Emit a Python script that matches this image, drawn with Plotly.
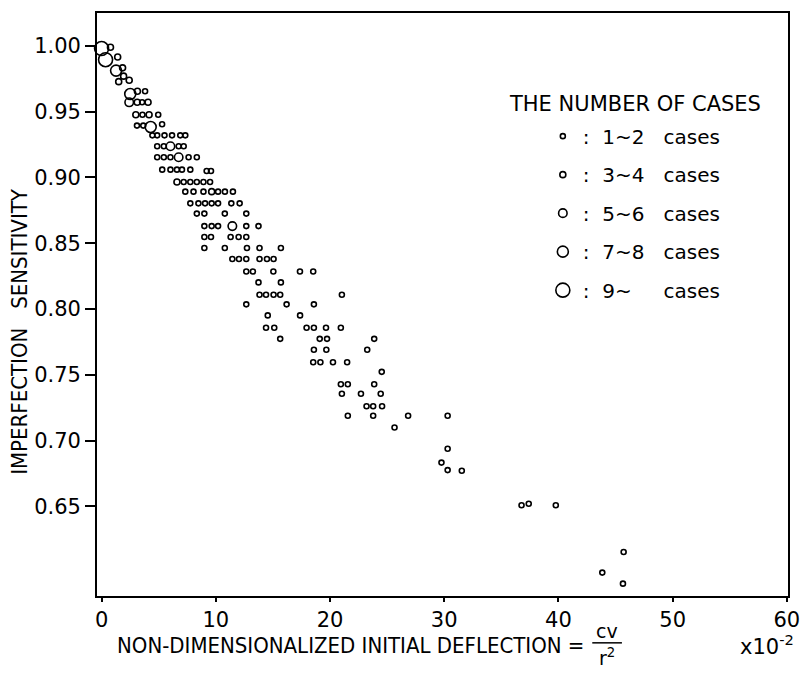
import plotly.graph_objects as go

# ---- data ----
x_vals = [
    0.0, 0.78, 0.35, 1.41, 1.27, 1.84, 1.93, 1.50, 2.42, 2.51, 3.14, 3.81, 2.42, 3.12, 3.55, 4.07,
    3.0, 3.58, 4.16, 4.96,
    3.1, 3.65, 4.3, 5.3,
    4.45, 4.87, 5.51, 6.17, 6.89, 7.33,
    4.87, 5.45, 6.03, 6.75, 7.19,
    4.87, 5.45, 6.03, 6.75, 7.62, 8.34,
    5.31, 6.03, 6.6, 7.04, 7.77, 9.2, 9.58,
    6.6, 7.19, 7.77, 8.34, 8.92, 9.5,
    7.33, 8.05, 8.92, 9.64, 10.2, 10.8, 11.5,
    7.77, 8.48, 9.06, 9.64, 10.2, 11.36, 12.09,
    8.34, 9.0, 10.79, 12.67,
    9.0, 9.64, 10.2, 11.45, 12.67, 13.74,
    9.0, 9.58, 11.3, 12.0, 12.67,
    9.0, 10.79, 12.73, 13.83, 15.7,
    11.45, 12.03, 12.67, 13.83, 14.48, 15.06,
    12.67, 13.25, 15.04, 17.37, 18.53,
    13.74, 15.7,
    13.83, 14.4, 15.06, 15.64, 21.04,
    12.67, 16.2, 18.59,
    14.55, 17.38,
    14.4, 15.12, 17.95, 18.59, 19.65, 20.95,
    15.64, 19.1, 19.74, 23.87,
    18.59, 19.68, 23.26,
    18.53, 19.16, 20.26, 21.5,
    24.53,
    20.95, 21.56, 23.87,
    21.04, 22.71, 24.44,
    23.2, 23.78, 24.56,
    21.56, 23.78, 26.84, 30.3,
    25.65,
    30.3, 29.76, 30.3, 31.54,
    36.77, 37.4, 39.77,
    43.84, 45.71, 45.65,
]
y_vals = [
    0.998, 0.999, 0.9895, 0.9916, 0.9812, 0.9833, 0.977, 0.9728, 0.9739, 0.9634, 0.9655, 0.9655,
    0.9571, 0.9571, 0.9571, 0.9571,
    0.9477, 0.9477, 0.9477, 0.9477,
    0.9394, 0.9394, 0.9383, 0.9404,
    0.932, 0.932, 0.932, 0.932, 0.932, 0.932,
    0.9237, 0.9237, 0.9237, 0.9237, 0.9237,
    0.9153, 0.9153, 0.9153, 0.9153, 0.9153, 0.9153,
    0.9059, 0.9059, 0.9059, 0.9059, 0.9059, 0.9049, 0.9049,
    0.8965, 0.8965, 0.8965, 0.8965, 0.8965, 0.8965,
    0.8892, 0.8892, 0.8892, 0.8892, 0.8892, 0.8892, 0.8892,
    0.8803, 0.8803, 0.8803, 0.8803, 0.8803, 0.8803, 0.8803,
    0.8725, 0.8725, 0.8725, 0.8725,
    0.863, 0.863, 0.863, 0.863, 0.863, 0.863,
    0.8547, 0.8547, 0.8547, 0.8547, 0.8547,
    0.8463, 0.8463, 0.8463, 0.8463, 0.8463,
    0.838, 0.838, 0.838, 0.838, 0.838, 0.838,
    0.8285, 0.8285, 0.8285, 0.8285, 0.8285,
    0.8202, 0.8202,
    0.8108, 0.8108, 0.8108, 0.8108, 0.8108,
    0.8035, 0.8035, 0.8035,
    0.7951, 0.7951,
    0.7857, 0.7857, 0.7857, 0.7857, 0.7857, 0.7857,
    0.7773, 0.7773, 0.7773, 0.7773,
    0.769, 0.769, 0.769,
    0.7595, 0.7595, 0.7595, 0.7595,
    0.7522,
    0.7428, 0.7428, 0.7428,
    0.7355, 0.7355, 0.7355,
    0.7261, 0.7261, 0.7261,
    0.7188, 0.7188, 0.7188, 0.7188,
    0.7099,
    0.6937, 0.6832, 0.6775, 0.677,
    0.6508, 0.6519, 0.6508,
    0.5996, 0.6153, 0.5912,
]
case_class = [
    5, 2, 5, 2, 4, 2, 2, 2, 2, 4, 2, 1, 3, 2, 1, 2,
    2, 1, 2, 1,
    1, 1, 4, 1,
    1, 1, 1, 1, 1, 1,
    1, 1, 3, 1, 1,
    1, 1, 1, 3, 1, 1,
    1, 1, 1, 1, 1, 1, 1,
    2, 1, 1, 1, 1, 1,
    1, 1, 1, 2, 1, 1, 1,
    1, 1, 1, 1, 1, 1, 1,
    1, 1, 1, 1,
    1, 1, 1, 3, 1, 1,
    1, 1, 1, 1, 1,
    1, 1, 1, 1, 1,
    1, 1, 1, 1, 1, 1,
    1, 1, 1, 1, 1,
    1, 1,
    1, 1, 1, 1, 1,
    1, 1, 1,
    1, 1,
    1, 1, 1, 1, 1, 1,
    1, 1, 1, 1,
    1, 1, 1,
    1, 1, 1, 1,
    1,
    1, 1, 1,
    1, 1, 1,
    1, 1, 1,
    1, 1, 1, 1,
    1,
    1, 1, 1, 1,
    1, 1, 1,
    1, 1, 1,
]
class_ids = [1, 2, 3, 4, 5]
class_labels = ["1~2", "3~4", "5~6", "7~8", "9~"]
y_tick_vals = [1.00, 0.95, 0.90, 0.85, 0.80, 0.75, 0.70, 0.65]
y_tick_text = ["1.00", "0.95", "0.90", "0.85", "0.80", "0.75", "0.70", "0.65"]
x_tick_vals = [0, 10, 20, 30, 40, 50, 60]

# ---- styling ----
marker_sizes = {1: 5, 2: 6, 3: 8.5, 4: 11, 5: 14}
NB = "\u00a0"
FONT = "DejaVu Sans"
NARROW = "Liberation Sans Narrow, DejaVu Sans Condensed, Liberation Sans"

L, R, T, B = 97, 796, 11, 596
W, H = R - L, B - T
def px(xp):
    return (xp - L) / W
def py(yp):
    return (B - yp) / H

fig = go.Figure()
for cid, lab in zip(class_ids, class_labels):
    xs = [x for x, c in zip(x_vals, case_class) if c == cid]
    ys = [y for y, c in zip(y_vals, case_class) if c == cid]
    gap = NB * (5 if cid == 5 else 3)
    fig.add_trace(go.Scatter(
        x=xs, y=ys, mode="markers",
        name=":" + NB * 2 + lab + gap + "cases",
        legendgroup=str(cid),
        marker=dict(symbol="circle-open", color="black", size=marker_sizes[cid],
                    line=dict(width=1.6, color="black")),
        cliponaxis=False,
    ))

fig.update_layout(
    width=811, height=675,
    margin=dict(l=L, r=811 - R, t=T, b=675 - B),
    paper_bgcolor="white", plot_bgcolor="white",
    font=dict(family=FONT, size=18, color="black"),
    showlegend=True,
    legend=dict(x=px(548), y=py(115), xanchor="left", yanchor="top",
                font=dict(family=FONT, size=20, color="black"),
                tracegroupgap=9.5, itemsizing="trace", bgcolor="rgba(0,0,0,0)"),
    xaxis=dict(range=[-0.4, 60.1], tickvals=x_tick_vals, ticks="outside", ticklen=4,
               tickwidth=1.5, tickcolor="black", showline=True, linewidth=1.8,
               linecolor="black", mirror=True, showgrid=False, zeroline=False,
               tickfont=dict(family=FONT, size=21, color="black")),
    yaxis=dict(range=[0.5818, 1.025], tickvals=y_tick_vals, ticktext=y_tick_text,
               ticks="outside", ticklen=10, tickwidth=1.5, tickcolor="black",
               showline=True, linewidth=1.8, linecolor="black", mirror=True,
               showgrid=False, zeroline=False,
               tickfont=dict(family=FONT, size=21, color="black")),
)

anns = [
    dict(text="IMPERFECTION" + NB * 3 + "SENSITIVITY", x=px(19), y=py(330), textangle=-90,
         xanchor="center", yanchor="middle", font=dict(family=NARROW, size=22)),
    dict(text="NON-DIMENSIONALIZED" + NB + "INITIAL" + NB + "DEFLECTION" + NB + "=", x=px(592), y=py(646),
         xanchor="right", yanchor="middle", font=dict(family=NARROW, size=22)),
    dict(text="cv", x=px(613), y=py(631), xanchor="center", yanchor="middle",
         font=dict(family=FONT, size=19)),
    dict(text="r<sup>2</sup>", x=px(613), y=py(657), xanchor="center", yanchor="middle",
         font=dict(family=FONT, size=19)),
    dict(text="x10<sup>-2</sup>", x=px(775), y=py(645), xanchor="center", yanchor="middle",
         font=dict(family=FONT, size=21)),
    dict(text="THE" + NB + "NUMBER" + NB + "OF" + NB + "CASES", x=px(512), y=py(102),
         xanchor="left", yanchor="middle", font=dict(family=FONT, size=21)),
]
for a in anns:
    a.update(xref="paper", yref="paper", showarrow=False)
fig.update_layout(annotations=anns)
fig.add_shape(type="line", xref="paper", yref="paper", x0=px(598), x1=px(628),
              y0=py(643), y1=py(643), line=dict(color="black", width=1.5))

fig.write_html("out.html")
